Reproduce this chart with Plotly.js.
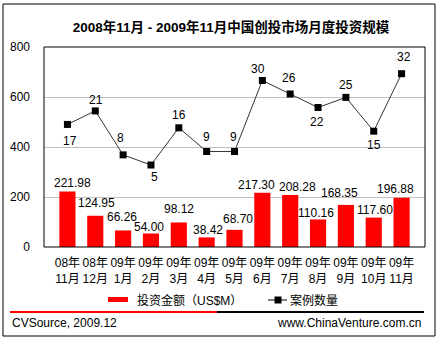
<!DOCTYPE html>
<html><head><meta charset="utf-8">
<script src="https://cdn.plot.ly/plotly-3.0.1.min.js"></script>
<style>html,body{margin:0;padding:0;background:#fff}#chart{width:438px;height:340px}</style>
</head><body><div id="chart"></div>
<script>
const months = ["08年<br>11月","08年<br>12月","09年<br>1月","09年<br>2月","09年<br>3月","09年<br>4月","09年<br>5月","09年<br>6月","09年<br>7月","09年<br>8月","09年<br>9月","09年<br>10月","09年<br>11月"];
const amount = [221.98,124.95,66.26,54.00,98.12,38.42,68.70,217.30,208.28,110.16,168.35,117.60,196.88];
const cases = [17,21,8,5,16,9,9,30,26,22,25,15,32];
const titleText = "2008年11月 - 2009年11月中国创投市场月度投资规模";
const amountName = "投资金额（US$M）";
const casesName = "案例数量";
const sourceText = "CVSource, 2009.12";
const siteText = "www.ChinaVenture.com.cn";

// label placement offsets (pixels), as in the reference
const amountLabelDx = [5.5,1.2,-1.4,-2.4,0,1.5,3.9,-5.8,7.6,-2,-6,1.5,-6.3];
const amountLabelDy = [8.8,12.8,13,7,13.5,7.4,11,7.7,8,6.5,11.6,7.6,8.5];
const casesLabelDx = [3,1,-3,4,0,0,-1.5,-4,-1,-1,0,0,2];
const casesLabelDy = [-16.6,11,17,-11.7,12.8,14,14,11,15.7,-14,12.4,-13.8,16.4];

const FONT = "Arial, 'Liberation Sans', 'Noto Sans CJK SC', sans-serif";
const L=44, R=425, T=47, B=247;
const px = x => (x-L)/(R-L);
const py = y => (B-y)/(B-T);

const traces = [
  {type:'bar', x:months, y:amount, name:amountName, marker:{color:'#ff0000'}, hoverinfo:'x+y'},
  {type:'scatter', mode:'lines+markers', x:months, y:cases, yaxis:'y2', name:casesName,
   line:{color:'#333333',width:1}, marker:{symbol:'square',size:7,color:'#000'}}
];

const shapes = [
  {type:'rect',xref:'paper',yref:'paper',x0:px(3),x1:px(435),y0:py(336),y1:py(4),line:{color:'#000',width:1},layer:'below'},
  {type:'rect',xref:'paper',yref:'paper',x0:0,x1:1,y0:0,y1:1,line:{color:'#000',width:1}},
  {type:'line',xref:'paper',yref:'paper',x0:px(10),x1:px(217),y0:py(312),y1:py(312),line:{color:'#ff0000',width:2}},
  {type:'line',xref:'paper',yref:'paper',x0:px(217),x1:px(424),y0:py(312),y1:py(312),line:{color:'#000',width:2}},
  {type:'rect',xref:'paper',yref:'paper',x0:px(108),x1:px(128),y0:py(302),y1:py(297),fillcolor:'#ff0000',line:{width:0}},
  {type:'line',xref:'paper',yref:'paper',x0:px(268),x1:px(287),y0:py(300),y1:py(300),line:{color:'#000',width:1}},
  {type:'rect',xref:'paper',yref:'paper',x0:px(274.5),x1:px(281.5),y0:py(303.5),y1:py(296.5),fillcolor:'#000',line:{width:0}}
];

const tf = {size:12,family:FONT,color:'#000'};
const annotations = [
  {xref:'paper',yref:'paper',x:px(135),y:py(300.5),xanchor:'left',yanchor:'middle',showarrow:false,text:amountName,font:tf},
  {xref:'paper',yref:'paper',x:px(288),y:py(300.5),xanchor:'left',yanchor:'middle',showarrow:false,text:casesName,font:tf},
  {xref:'paper',yref:'paper',x:px(10),y:py(323),xanchor:'left',yanchor:'middle',showarrow:false,text:sourceText,font:tf},
  {xref:'paper',yref:'paper',x:px(423),y:py(323),xanchor:'right',yanchor:'middle',showarrow:false,text:siteText,font:tf}
];
months.forEach((m,i)=>{
  annotations.push({xref:'x',yref:'y',x:m,y:amount[i],xanchor:'center',yanchor:'middle',showarrow:false,
    text:amount[i].toFixed(2),font:tf,xshift:amountLabelDx[i],yshift:amountLabelDy[i]});
  annotations.push({xref:'x',yref:'y2',x:m,y:cases[i],xanchor:'center',yanchor:'middle',showarrow:false,
    text:String(cases[i]),font:tf,xshift:casesLabelDx[i],yshift:casesLabelDy[i]});
});

const layout = {
  width:438, height:340,
  margin:{l:L, r:438-R, t:T, b:340-B, pad:0},
  paper_bgcolor:'#fff', plot_bgcolor:'#fff',
  showlegend:false,
  font:{family:FONT,size:12,color:'#000'},
  title:{text:'<b>'+titleText+'</b>', x:px(231), xref:'paper', xanchor:'center', y:1-27/340, yanchor:'middle', font:{size:13.5,family:FONT,color:'#000'}},
  bargap:0.42,
  xaxis:{type:'category', showgrid:false, zeroline:false, showline:false, ticks:'', tickangle:0,
         tickfont:tf, ticklabelstandoff:7, fixedrange:true},
  yaxis:{range:[0,800], dtick:200, showgrid:true, gridcolor:'#c0c0c0', gridwidth:1, zeroline:false, showline:false,
         ticks:'', tickfont:tf, ticklabelstandoff:13},
  yaxis2:{overlaying:'y', side:'right', range:[-19.25,39.9], visible:false, showgrid:false},
  shapes:shapes, annotations:annotations
};

Plotly.newPlot('chart', traces, layout, {displayModeBar:false, staticPlot:true});
</script></body></html>
